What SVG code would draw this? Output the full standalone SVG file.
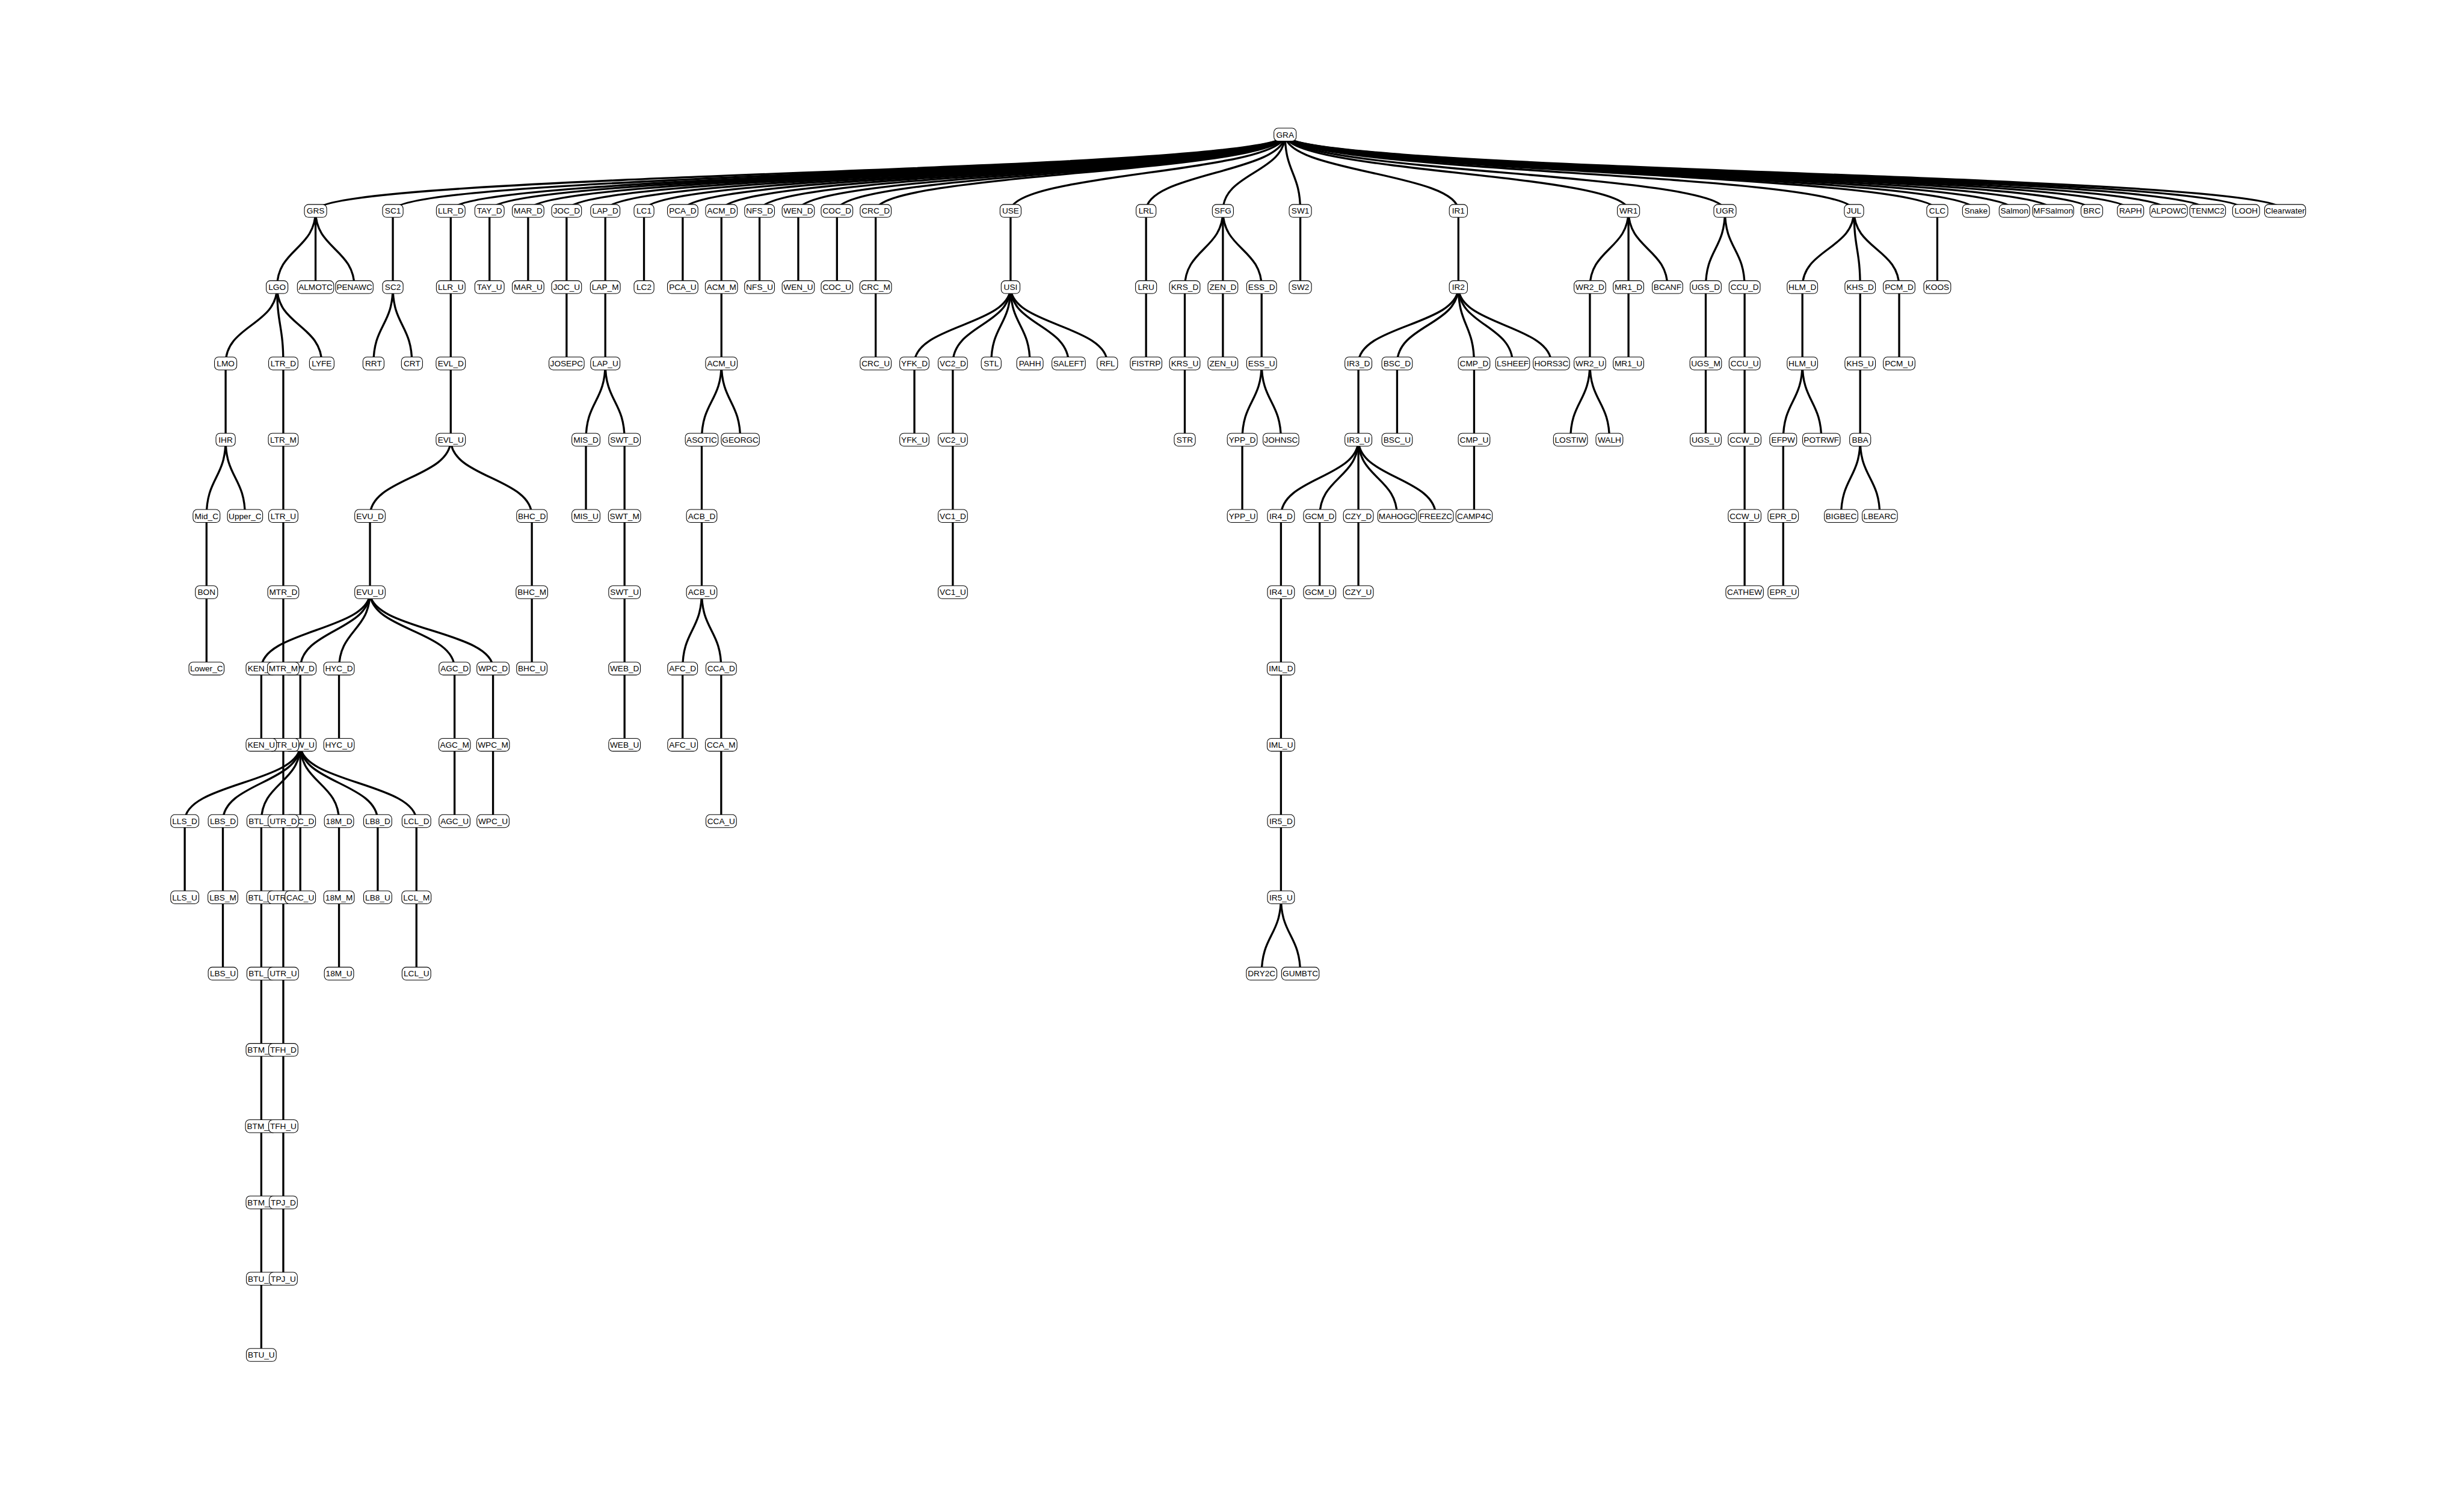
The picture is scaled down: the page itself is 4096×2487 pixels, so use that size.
<svg xmlns="http://www.w3.org/2000/svg" width="4096" height="2487" viewBox="0 0 4096 2487">
<style>
.e path{fill:none;stroke:#000;stroke-width:3.4}
.n rect{fill:#fff;stroke:#000;stroke-width:1.1}
.n text{font-family:'Liberation Sans Narrow','Arial Narrow','Liberation Sans',Arial,sans-serif;font-size:14px;text-anchor:middle;fill:#000}
</style>
<rect width="4096" height="2487" fill="#fff"/>
<g transform="scale(0.975)">
<g id="connectors" class="e">
<path d="M2191 229.5C2191 294.5 538 294.5 538 359.6"/>
<path d="M2191 229.5C2191 294.5 669.8 294.5 669.8 359.6"/>
<path d="M2191 229.5C2191 294.5 768.5 294.5 768.5 359.6"/>
<path d="M2191 229.5C2191 294.5 834.6 294.5 834.6 359.6"/>
<path d="M2191 229.5C2191 294.5 900.4 294.5 900.4 359.6"/>
<path d="M2191 229.5C2191 294.5 966 294.5 966 359.6"/>
<path d="M2191 229.5C2191 294.5 1032 294.5 1032 359.6"/>
<path d="M2191 229.5C2191 294.5 1098 294.5 1098 359.6"/>
<path d="M2191 229.5C2191 294.5 1164 294.5 1164 359.6"/>
<path d="M2191 229.5C2191 294.5 1230 294.5 1230 359.6"/>
<path d="M2191 229.5C2191 294.5 1295 294.5 1295 359.6"/>
<path d="M2191 229.5C2191 294.5 1361 294.5 1361 359.6"/>
<path d="M2191 229.5C2191 294.5 1427 294.5 1427 359.6"/>
<path d="M2191 229.5C2191 294.5 1493 294.5 1493 359.6"/>
<path d="M2191 229.5C2191 294.5 1723 294.5 1723 359.6"/>
<path d="M2191 229.5C2191 294.5 1954 294.5 1954 359.6"/>
<path d="M2191 229.5C2191 294.5 2085 294.5 2085 359.6"/>
<path d="M2191 229.5C2191 294.5 2217 294.5 2217 359.6"/>
<path d="M2191 229.5C2191 294.5 2486.5 294.5 2486.5 359.6"/>
<path d="M2191 229.5C2191 294.5 2776.5 294.5 2776.5 359.6"/>
<path d="M2191 229.5C2191 294.5 2941 294.5 2941 359.6"/>
<path d="M2191 229.5C2191 294.5 3161 294.5 3161 359.6"/>
<path d="M2191 229.5C2191 294.5 3303 294.5 3303 359.6"/>
<path d="M2191 229.5C2191 294.5 3369 294.5 3369 359.6"/>
<path d="M2191 229.5C2191 294.5 3434.5 294.5 3434.5 359.6"/>
<path d="M2191 229.5C2191 294.5 3500.5 294.5 3500.5 359.6"/>
<path d="M2191 229.5C2191 294.5 3566.5 294.5 3566.5 359.6"/>
<path d="M2191 229.5C2191 294.5 3632.5 294.5 3632.5 359.6"/>
<path d="M2191 229.5C2191 294.5 3697.5 294.5 3697.5 359.6"/>
<path d="M2191 229.5C2191 294.5 3764 294.5 3764 359.6"/>
<path d="M2191 229.5C2191 294.5 3829.5 294.5 3829.5 359.6"/>
<path d="M2191 229.5C2191 294.5 3896 294.5 3896 359.6"/>
<path d="M538 359.6C538 424.6 472.4 424.6 472.4 489.6"/>
<path d="M538 359.6V489.6"/>
<path d="M538 359.6C538 424.6 604.2 424.6 604.2 489.6"/>
<path d="M669.8 359.6V489.6"/>
<path d="M768.5 359.6V489.6"/>
<path d="M834.6 359.6V489.6"/>
<path d="M900.4 359.6V489.6"/>
<path d="M966 359.6V489.6"/>
<path d="M1032 359.6V489.6"/>
<path d="M1098 359.6V489.6"/>
<path d="M1164 359.6V489.6"/>
<path d="M1230 359.6V489.6"/>
<path d="M1295 359.6V489.6"/>
<path d="M1361 359.6V489.6"/>
<path d="M1427 359.6V489.6"/>
<path d="M1493 359.6V489.6"/>
<path d="M1723 359.6V489.6"/>
<path d="M1954 359.6V489.6"/>
<path d="M2085 359.6C2085 424.6 2020 424.6 2020 489.6"/>
<path d="M2085 359.6V489.6"/>
<path d="M2085 359.6C2085 424.6 2151 424.6 2151 489.6"/>
<path d="M2217 359.6V489.6"/>
<path d="M2486.5 359.6V489.6"/>
<path d="M2776.5 359.6C2776.5 424.6 2710.7 424.6 2710.7 489.6"/>
<path d="M2776.5 359.6V489.6"/>
<path d="M2776.5 359.6C2776.5 424.6 2843 424.6 2843 489.6"/>
<path d="M2941 359.6C2941 424.6 2908.2 424.6 2908.2 489.6"/>
<path d="M2941 359.6C2941 424.6 2974.5 424.6 2974.5 489.6"/>
<path d="M3161 359.6C3161 424.6 3073 424.6 3073 489.6"/>
<path d="M3161 359.6C3161 424.6 3171.5 424.6 3171.5 489.6"/>
<path d="M3161 359.6C3161 424.6 3238 424.6 3238 489.6"/>
<path d="M3303 359.6V489.6"/>
<path d="M472.4 489.6C472.4 554.6 384.7 554.6 384.7 619.7"/>
<path d="M472.4 489.6C472.4 554.6 483 554.6 483 619.7"/>
<path d="M472.4 489.6C472.4 554.6 548.6 554.6 548.6 619.7"/>
<path d="M669.8 489.6C669.8 554.6 636.8 554.6 636.8 619.7"/>
<path d="M669.8 489.6C669.8 554.6 702.4 554.6 702.4 619.7"/>
<path d="M768.5 489.6V619.7"/>
<path d="M966 489.6V619.7"/>
<path d="M1032 489.6V619.7"/>
<path d="M1230 489.6V619.7"/>
<path d="M1493 489.6V619.7"/>
<path d="M1723 489.6C1723 554.6 1559 554.6 1559 619.7"/>
<path d="M1723 489.6C1723 554.6 1624.5 554.6 1624.5 619.7"/>
<path d="M1723 489.6C1723 554.6 1690 554.6 1690 619.7"/>
<path d="M1723 489.6C1723 554.6 1756 554.6 1756 619.7"/>
<path d="M1723 489.6C1723 554.6 1822 554.6 1822 619.7"/>
<path d="M1723 489.6C1723 554.6 1888 554.6 1888 619.7"/>
<path d="M1954 489.6V619.7"/>
<path d="M2020 489.6V619.7"/>
<path d="M2085 489.6V619.7"/>
<path d="M2151 489.6V619.7"/>
<path d="M2486.5 489.6C2486.5 554.6 2316 554.6 2316 619.7"/>
<path d="M2486.5 489.6C2486.5 554.6 2382 554.6 2382 619.7"/>
<path d="M2486.5 489.6C2486.5 554.6 2513.3 554.6 2513.3 619.7"/>
<path d="M2486.5 489.6C2486.5 554.6 2579 554.6 2579 619.7"/>
<path d="M2486.5 489.6C2486.5 554.6 2645 554.6 2645 619.7"/>
<path d="M2710.7 489.6V619.7"/>
<path d="M2776.5 489.6V619.7"/>
<path d="M2908.2 489.6V619.7"/>
<path d="M2974.5 489.6V619.7"/>
<path d="M3073 489.6V619.7"/>
<path d="M3171.5 489.6V619.7"/>
<path d="M3238 489.6V619.7"/>
<path d="M384.7 619.7V749.7"/>
<path d="M483 619.7V749.7"/>
<path d="M768.5 619.7V749.7"/>
<path d="M1032 619.7C1032 684.7 999 684.7 999 749.7"/>
<path d="M1032 619.7C1032 684.7 1064.8 684.7 1064.8 749.7"/>
<path d="M1230 619.7C1230 684.7 1196.4 684.7 1196.4 749.7"/>
<path d="M1230 619.7C1230 684.7 1262.2 684.7 1262.2 749.7"/>
<path d="M1559 619.7V749.7"/>
<path d="M1624.5 619.7V749.7"/>
<path d="M2020 619.7V749.7"/>
<path d="M2151 619.7C2151 684.7 2118 684.7 2118 749.7"/>
<path d="M2151 619.7C2151 684.7 2184 684.7 2184 749.7"/>
<path d="M2316 619.7V749.7"/>
<path d="M2382 619.7V749.7"/>
<path d="M2513.3 619.7V749.7"/>
<path d="M2710.7 619.7C2710.7 684.7 2677.6 684.7 2677.6 749.7"/>
<path d="M2710.7 619.7C2710.7 684.7 2744 684.7 2744 749.7"/>
<path d="M2908.2 619.7V749.7"/>
<path d="M2974.5 619.7V749.7"/>
<path d="M3073 619.7C3073 684.7 3040.3 684.7 3040.3 749.7"/>
<path d="M3073 619.7C3073 684.7 3105.4 684.7 3105.4 749.7"/>
<path d="M3171.5 619.7V749.7"/>
<path d="M384.7 749.7C384.7 814.7 352.1 814.7 352.1 879.8"/>
<path d="M384.7 749.7C384.7 814.7 417.8 814.7 417.8 879.8"/>
<path d="M483 749.7V879.8"/>
<path d="M768.5 749.7C768.5 814.7 630.8 814.7 630.8 879.8"/>
<path d="M768.5 749.7C768.5 814.7 906.8 814.7 906.8 879.8"/>
<path d="M999 749.7V879.8"/>
<path d="M1064.8 749.7V879.8"/>
<path d="M1196.4 749.7V879.8"/>
<path d="M1624.5 749.7V879.8"/>
<path d="M2118 749.7V879.8"/>
<path d="M2316 749.7C2316 814.7 2184 814.7 2184 879.8"/>
<path d="M2316 749.7C2316 814.7 2250 814.7 2250 879.8"/>
<path d="M2316 749.7V879.8"/>
<path d="M2316 749.7C2316 814.7 2382 814.7 2382 879.8"/>
<path d="M2316 749.7C2316 814.7 2448 814.7 2448 879.8"/>
<path d="M2513.3 749.7V879.8"/>
<path d="M2974.5 749.7V879.8"/>
<path d="M3040.3 749.7V879.8"/>
<path d="M3171.5 749.7C3171.5 814.7 3139 814.7 3139 879.8"/>
<path d="M3171.5 749.7C3171.5 814.7 3205 814.7 3205 879.8"/>
<path d="M352.1 879.8V1009.8"/>
<path d="M483 879.8V1009.8"/>
<path d="M630.8 879.8V1009.8"/>
<path d="M906.8 879.8V1009.8"/>
<path d="M1064.8 879.8V1009.8"/>
<path d="M1196.4 879.8V1009.8"/>
<path d="M1624.5 879.8V1009.8"/>
<path d="M2184 879.8V1009.8"/>
<path d="M2250 879.8V1009.8"/>
<path d="M2316 879.8V1009.8"/>
<path d="M2974.5 879.8V1009.8"/>
<path d="M3040.3 879.8V1009.8"/>
<path d="M352.1 1009.8V1139.9"/>
<path d="M483 1009.8V1139.9"/>
<path d="M630.8 1009.8C630.8 1074.8 445.5 1074.8 445.5 1139.9"/>
<path d="M630.8 1009.8C630.8 1074.8 512 1074.8 512 1139.9"/>
<path d="M630.8 1009.8C630.8 1074.8 578 1074.8 578 1139.9"/>
<path d="M630.8 1009.8C630.8 1074.8 775 1074.8 775 1139.9"/>
<path d="M630.8 1009.8C630.8 1074.8 840.6 1074.8 840.6 1139.9"/>
<path d="M906.8 1009.8V1139.9"/>
<path d="M1064.8 1009.8V1139.9"/>
<path d="M1196.4 1009.8C1196.4 1074.8 1163.8 1074.8 1163.8 1139.9"/>
<path d="M1196.4 1009.8C1196.4 1074.8 1229.6 1074.8 1229.6 1139.9"/>
<path d="M2184 1009.8V1139.9"/>
<path d="M445.5 1139.9V1269.9"/>
<path d="M483 1139.9V1269.9"/>
<path d="M512 1139.9V1269.9"/>
<path d="M578 1139.9V1269.9"/>
<path d="M775 1139.9V1269.9"/>
<path d="M840.6 1139.9V1269.9"/>
<path d="M1064.8 1139.9V1269.9"/>
<path d="M1163.8 1139.9V1269.9"/>
<path d="M1229.6 1139.9V1269.9"/>
<path d="M2184 1139.9V1269.9"/>
<path d="M512 1269.9C512 1335 315 1335 315 1400"/>
<path d="M512 1269.9C512 1335 380 1335 380 1400"/>
<path d="M512 1269.9C512 1335 445.5 1335 445.5 1400"/>
<path d="M512 1269.9V1400"/>
<path d="M512 1269.9C512 1335 578 1335 578 1400"/>
<path d="M512 1269.9C512 1335 644 1335 644 1400"/>
<path d="M512 1269.9C512 1335 710 1335 710 1400"/>
<path d="M483 1269.9V1400"/>
<path d="M775 1269.9V1400"/>
<path d="M840.6 1269.9V1400"/>
<path d="M1229.6 1269.9V1400"/>
<path d="M2184 1269.9V1400"/>
<path d="M315 1400V1530"/>
<path d="M380 1400V1530"/>
<path d="M445.5 1400V1530"/>
<path d="M483 1400V1530"/>
<path d="M512 1400V1530"/>
<path d="M578 1400V1530"/>
<path d="M644 1400V1530"/>
<path d="M710 1400V1530"/>
<path d="M2184 1400V1530"/>
<path d="M380 1530V1660.1"/>
<path d="M445.5 1530V1660.1"/>
<path d="M483 1530V1660.1"/>
<path d="M578 1530V1660.1"/>
<path d="M710 1530V1660.1"/>
<path d="M2184 1530C2184 1595 2151 1595 2151 1660.1"/>
<path d="M2184 1530C2184 1595 2217 1595 2217 1660.1"/>
<path d="M445.5 1660.1V1790.1"/>
<path d="M483 1660.1V1790.1"/>
<path d="M445.5 1790.1V1920.2"/>
<path d="M483 1790.1V1920.2"/>
<path d="M445.5 1920.2V2050.2"/>
<path d="M483 1920.2V2050.2"/>
<path d="M445.5 2050.2V2180.3"/>
<path d="M483 2050.2V2180.3"/>
<path d="M445.5 2180.3V2310.3"/>
</g>
<g id="nodes">
<g id="n-GRA" class="n" transform="translate(2191,229.5)"><rect x="-19" y="-11" width="38" height="22" rx="7"/><text y="5">GRA</text></g>
<g id="n-GRS" class="n" transform="translate(538,359.6)"><rect x="-19" y="-11" width="38" height="22" rx="7"/><text y="5">GRS</text></g>
<g id="n-SC1" class="n" transform="translate(669.8,359.6)"><rect x="-17.5" y="-11" width="35" height="22" rx="7"/><text y="5">SC1</text></g>
<g id="n-LLR_D" class="n" transform="translate(768.5,359.6)"><rect x="-24.5" y="-11" width="49" height="22" rx="7"/><text y="5">LLR_D</text></g>
<g id="n-TAY_D" class="n" transform="translate(834.6,359.6)"><rect x="-25" y="-11" width="50" height="22" rx="7"/><text y="5">TAY_D</text></g>
<g id="n-MAR_D" class="n" transform="translate(900.4,359.6)"><rect x="-27" y="-11" width="54" height="22" rx="7"/><text y="5">MAR_D</text></g>
<g id="n-JOC_D" class="n" transform="translate(966,359.6)"><rect x="-25.5" y="-11" width="51" height="22" rx="7"/><text y="5">JOC_D</text></g>
<g id="n-LAP_D" class="n" transform="translate(1032,359.6)"><rect x="-25" y="-11" width="50" height="22" rx="7"/><text y="5">LAP_D</text></g>
<g id="n-LC1" class="n" transform="translate(1098,359.6)"><rect x="-17" y="-11" width="34" height="22" rx="7"/><text y="5">LC1</text></g>
<g id="n-PCA_D" class="n" transform="translate(1164,359.6)"><rect x="-26" y="-11" width="52" height="22" rx="7"/><text y="5">PCA_D</text></g>
<g id="n-ACM_D" class="n" transform="translate(1230,359.6)"><rect x="-27" y="-11" width="54" height="22" rx="7"/><text y="5">ACM_D</text></g>
<g id="n-NFS_D" class="n" transform="translate(1295,359.6)"><rect x="-25.5" y="-11" width="51" height="22" rx="7"/><text y="5">NFS_D</text></g>
<g id="n-WEN_D" class="n" transform="translate(1361,359.6)"><rect x="-27.5" y="-11" width="55" height="22" rx="7"/><text y="5">WEN_D</text></g>
<g id="n-COC_D" class="n" transform="translate(1427,359.6)"><rect x="-27" y="-11" width="54" height="22" rx="7"/><text y="5">COC_D</text></g>
<g id="n-CRC_D" class="n" transform="translate(1493,359.6)"><rect x="-26.5" y="-11" width="53" height="22" rx="7"/><text y="5">CRC_D</text></g>
<g id="n-USE" class="n" transform="translate(1723,359.6)"><rect x="-18" y="-11" width="36" height="22" rx="7"/><text y="5">USE</text></g>
<g id="n-LRL" class="n" transform="translate(1954,359.6)"><rect x="-17" y="-11" width="34" height="22" rx="7"/><text y="5">LRL</text></g>
<g id="n-SFG" class="n" transform="translate(2085,359.6)"><rect x="-18" y="-11" width="36" height="22" rx="7"/><text y="5">SFG</text></g>
<g id="n-SW1" class="n" transform="translate(2217,359.6)"><rect x="-19" y="-11" width="38" height="22" rx="7"/><text y="5">SW1</text></g>
<g id="n-IR1" class="n" transform="translate(2486.5,359.6)"><rect x="-15.5" y="-11" width="31" height="22" rx="7"/><text y="5">IR1</text></g>
<g id="n-WR1" class="n" transform="translate(2776.5,359.6)"><rect x="-19" y="-11" width="38" height="22" rx="7"/><text y="5">WR1</text></g>
<g id="n-UGR" class="n" transform="translate(2941,359.6)"><rect x="-19" y="-11" width="38" height="22" rx="7"/><text y="5">UGR</text></g>
<g id="n-JUL" class="n" transform="translate(3161,359.6)"><rect x="-16.5" y="-11" width="33" height="22" rx="7"/><text y="5">JUL</text></g>
<g id="n-CLC" class="n" transform="translate(3303,359.6)"><rect x="-18" y="-11" width="36" height="22" rx="7"/><text y="5">CLC</text></g>
<g id="n-Snake" class="n" transform="translate(3369,359.6)"><rect x="-23" y="-11" width="46" height="22" rx="7"/><text y="5">Snake</text></g>
<g id="n-Salmon" class="n" transform="translate(3434.5,359.6)"><rect x="-26" y="-11" width="52" height="22" rx="7"/><text y="5">Salmon</text></g>
<g id="n-MFSalmon" class="n" transform="translate(3500.5,359.6)"><rect x="-35" y="-11" width="70" height="22" rx="7"/><text y="5">MFSalmon</text></g>
<g id="n-BRC" class="n" transform="translate(3566.5,359.6)"><rect x="-18.5" y="-11" width="37" height="22" rx="7"/><text y="5">BRC</text></g>
<g id="n-RAPH" class="n" transform="translate(3632.5,359.6)"><rect x="-22.5" y="-11" width="45" height="22" rx="7"/><text y="5">RAPH</text></g>
<g id="n-ALPOWC" class="n" transform="translate(3697.5,359.6)"><rect x="-32" y="-11" width="64" height="22" rx="7"/><text y="5">ALPOWC</text></g>
<g id="n-TENMC2" class="n" transform="translate(3764,359.6)"><rect x="-30.5" y="-11" width="61" height="22" rx="7"/><text y="5">TENMC2</text></g>
<g id="n-LOOH" class="n" transform="translate(3829.5,359.6)"><rect x="-23" y="-11" width="46" height="22" rx="7"/><text y="5">LOOH</text></g>
<g id="n-Clearwater" class="n" transform="translate(3896,359.6)"><rect x="-35" y="-11" width="70" height="22" rx="7"/><text y="5">Clearwater</text></g>
<g id="n-LGO" class="n" transform="translate(472.4,489.6)"><rect x="-18.5" y="-11" width="37" height="22" rx="7"/><text y="5">LGO</text></g>
<g id="n-ALMOTC" class="n" transform="translate(538,489.6)"><rect x="-31" y="-11" width="62" height="22" rx="7"/><text y="5">ALMOTC</text></g>
<g id="n-PENAWC" class="n" transform="translate(604.2,489.6)"><rect x="-32" y="-11" width="64" height="22" rx="7"/><text y="5">PENAWC</text></g>
<g id="n-SC2" class="n" transform="translate(669.8,489.6)"><rect x="-17.5" y="-11" width="35" height="22" rx="7"/><text y="5">SC2</text></g>
<g id="n-LLR_U" class="n" transform="translate(768.5,489.6)"><rect x="-24.5" y="-11" width="49" height="22" rx="7"/><text y="5">LLR_U</text></g>
<g id="n-TAY_U" class="n" transform="translate(834.6,489.6)"><rect x="-25" y="-11" width="50" height="22" rx="7"/><text y="5">TAY_U</text></g>
<g id="n-MAR_U" class="n" transform="translate(900.4,489.6)"><rect x="-27" y="-11" width="54" height="22" rx="7"/><text y="5">MAR_U</text></g>
<g id="n-JOC_U" class="n" transform="translate(966,489.6)"><rect x="-25.5" y="-11" width="51" height="22" rx="7"/><text y="5">JOC_U</text></g>
<g id="n-LAP_M" class="n" transform="translate(1032,489.6)"><rect x="-25.5" y="-11" width="51" height="22" rx="7"/><text y="5">LAP_M</text></g>
<g id="n-LC2" class="n" transform="translate(1098,489.6)"><rect x="-17" y="-11" width="34" height="22" rx="7"/><text y="5">LC2</text></g>
<g id="n-PCA_U" class="n" transform="translate(1164,489.6)"><rect x="-26" y="-11" width="52" height="22" rx="7"/><text y="5">PCA_U</text></g>
<g id="n-ACM_M" class="n" transform="translate(1230,489.6)"><rect x="-27.5" y="-11" width="55" height="22" rx="7"/><text y="5">ACM_M</text></g>
<g id="n-NFS_U" class="n" transform="translate(1295,489.6)"><rect x="-25.5" y="-11" width="51" height="22" rx="7"/><text y="5">NFS_U</text></g>
<g id="n-WEN_U" class="n" transform="translate(1361,489.6)"><rect x="-27.5" y="-11" width="55" height="22" rx="7"/><text y="5">WEN_U</text></g>
<g id="n-COC_U" class="n" transform="translate(1427,489.6)"><rect x="-27" y="-11" width="54" height="22" rx="7"/><text y="5">COC_U</text></g>
<g id="n-CRC_M" class="n" transform="translate(1493,489.6)"><rect x="-27" y="-11" width="54" height="22" rx="7"/><text y="5">CRC_M</text></g>
<g id="n-USI" class="n" transform="translate(1723,489.6)"><rect x="-16" y="-11" width="32" height="22" rx="7"/><text y="5">USI</text></g>
<g id="n-LRU" class="n" transform="translate(1954,489.6)"><rect x="-18" y="-11" width="36" height="22" rx="7"/><text y="5">LRU</text></g>
<g id="n-KRS_D" class="n" transform="translate(2020,489.6)"><rect x="-26" y="-11" width="52" height="22" rx="7"/><text y="5">KRS_D</text></g>
<g id="n-ZEN_D" class="n" transform="translate(2085,489.6)"><rect x="-25.5" y="-11" width="51" height="22" rx="7"/><text y="5">ZEN_D</text></g>
<g id="n-ESS_D" class="n" transform="translate(2151,489.6)"><rect x="-25.5" y="-11" width="51" height="22" rx="7"/><text y="5">ESS_D</text></g>
<g id="n-SW2" class="n" transform="translate(2217,489.6)"><rect x="-19" y="-11" width="38" height="22" rx="7"/><text y="5">SW2</text></g>
<g id="n-IR2" class="n" transform="translate(2486.5,489.6)"><rect x="-15.5" y="-11" width="31" height="22" rx="7"/><text y="5">IR2</text></g>
<g id="n-WR2_D" class="n" transform="translate(2710.7,489.6)"><rect x="-27" y="-11" width="54" height="22" rx="7"/><text y="5">WR2_D</text></g>
<g id="n-MR1_D" class="n" transform="translate(2776.5,489.6)"><rect x="-26" y="-11" width="52" height="22" rx="7"/><text y="5">MR1_D</text></g>
<g id="n-BCANF" class="n" transform="translate(2843,489.6)"><rect x="-26" y="-11" width="52" height="22" rx="7"/><text y="5">BCANF</text></g>
<g id="n-UGS_D" class="n" transform="translate(2908.2,489.6)"><rect x="-26.5" y="-11" width="53" height="22" rx="7"/><text y="5">UGS_D</text></g>
<g id="n-CCU_D" class="n" transform="translate(2974.5,489.6)"><rect x="-26.5" y="-11" width="53" height="22" rx="7"/><text y="5">CCU_D</text></g>
<g id="n-HLM_D" class="n" transform="translate(3073,489.6)"><rect x="-26" y="-11" width="52" height="22" rx="7"/><text y="5">HLM_D</text></g>
<g id="n-KHS_D" class="n" transform="translate(3171.5,489.6)"><rect x="-26" y="-11" width="52" height="22" rx="7"/><text y="5">KHS_D</text></g>
<g id="n-PCM_D" class="n" transform="translate(3238,489.6)"><rect x="-27" y="-11" width="54" height="22" rx="7"/><text y="5">PCM_D</text></g>
<g id="n-KOOS" class="n" transform="translate(3303,489.6)"><rect x="-23" y="-11" width="46" height="22" rx="7"/><text y="5">KOOS</text></g>
<g id="n-LMO" class="n" transform="translate(384.7,619.7)"><rect x="-19" y="-11" width="38" height="22" rx="7"/><text y="5">LMO</text></g>
<g id="n-LTR_D" class="n" transform="translate(483,619.7)"><rect x="-25" y="-11" width="50" height="22" rx="7"/><text y="5">LTR_D</text></g>
<g id="n-LYFE" class="n" transform="translate(548.6,619.7)"><rect x="-21" y="-11" width="42" height="22" rx="7"/><text y="5">LYFE</text></g>
<g id="n-RRT" class="n" transform="translate(636.8,619.7)"><rect x="-18" y="-11" width="36" height="22" rx="7"/><text y="5">RRT</text></g>
<g id="n-CRT" class="n" transform="translate(702.4,619.7)"><rect x="-18" y="-11" width="36" height="22" rx="7"/><text y="5">CRT</text></g>
<g id="n-EVL_D" class="n" transform="translate(768.5,619.7)"><rect x="-25" y="-11" width="50" height="22" rx="7"/><text y="5">EVL_D</text></g>
<g id="n-JOSEPC" class="n" transform="translate(966,619.7)"><rect x="-30" y="-11" width="60" height="22" rx="7"/><text y="5">JOSEPC</text></g>
<g id="n-LAP_U" class="n" transform="translate(1032,619.7)"><rect x="-25" y="-11" width="50" height="22" rx="7"/><text y="5">LAP_U</text></g>
<g id="n-ACM_U" class="n" transform="translate(1230,619.7)"><rect x="-27" y="-11" width="54" height="22" rx="7"/><text y="5">ACM_U</text></g>
<g id="n-CRC_U" class="n" transform="translate(1493,619.7)"><rect x="-26.5" y="-11" width="53" height="22" rx="7"/><text y="5">CRC_U</text></g>
<g id="n-YFK_D" class="n" transform="translate(1559,619.7)"><rect x="-25" y="-11" width="50" height="22" rx="7"/><text y="5">YFK_D</text></g>
<g id="n-VC2_D" class="n" transform="translate(1624.5,619.7)"><rect x="-25" y="-11" width="50" height="22" rx="7"/><text y="5">VC2_D</text></g>
<g id="n-STL" class="n" transform="translate(1690,619.7)"><rect x="-17" y="-11" width="34" height="22" rx="7"/><text y="5">STL</text></g>
<g id="n-PAHH" class="n" transform="translate(1756,619.7)"><rect x="-22.5" y="-11" width="45" height="22" rx="7"/><text y="5">PAHH</text></g>
<g id="n-SALEFT" class="n" transform="translate(1822,619.7)"><rect x="-28.5" y="-11" width="57" height="22" rx="7"/><text y="5">SALEFT</text></g>
<g id="n-RFL" class="n" transform="translate(1888,619.7)"><rect x="-17.5" y="-11" width="35" height="22" rx="7"/><text y="5">RFL</text></g>
<g id="n-FISTRP" class="n" transform="translate(1954,619.7)"><rect x="-27" y="-11" width="54" height="22" rx="7"/><text y="5">FISTRP</text></g>
<g id="n-KRS_U" class="n" transform="translate(2020,619.7)"><rect x="-26" y="-11" width="52" height="22" rx="7"/><text y="5">KRS_U</text></g>
<g id="n-ZEN_U" class="n" transform="translate(2085,619.7)"><rect x="-25.5" y="-11" width="51" height="22" rx="7"/><text y="5">ZEN_U</text></g>
<g id="n-ESS_U" class="n" transform="translate(2151,619.7)"><rect x="-25.5" y="-11" width="51" height="22" rx="7"/><text y="5">ESS_U</text></g>
<g id="n-IR3_D" class="n" transform="translate(2316,619.7)"><rect x="-23" y="-11" width="46" height="22" rx="7"/><text y="5">IR3_D</text></g>
<g id="n-BSC_D" class="n" transform="translate(2382,619.7)"><rect x="-26" y="-11" width="52" height="22" rx="7"/><text y="5">BSC_D</text></g>
<g id="n-CMP_D" class="n" transform="translate(2513.3,619.7)"><rect x="-27" y="-11" width="54" height="22" rx="7"/><text y="5">CMP_D</text></g>
<g id="n-LSHEEF" class="n" transform="translate(2579,619.7)"><rect x="-29" y="-11" width="58" height="22" rx="7"/><text y="5">LSHEEF</text></g>
<g id="n-HORS3C" class="n" transform="translate(2645,619.7)"><rect x="-31" y="-11" width="62" height="22" rx="7"/><text y="5">HORS3C</text></g>
<g id="n-WR2_U" class="n" transform="translate(2710.7,619.7)"><rect x="-27" y="-11" width="54" height="22" rx="7"/><text y="5">WR2_U</text></g>
<g id="n-MR1_U" class="n" transform="translate(2776.5,619.7)"><rect x="-26" y="-11" width="52" height="22" rx="7"/><text y="5">MR1_U</text></g>
<g id="n-UGS_M" class="n" transform="translate(2908.2,619.7)"><rect x="-27" y="-11" width="54" height="22" rx="7"/><text y="5">UGS_M</text></g>
<g id="n-CCU_U" class="n" transform="translate(2974.5,619.7)"><rect x="-26.5" y="-11" width="53" height="22" rx="7"/><text y="5">CCU_U</text></g>
<g id="n-HLM_U" class="n" transform="translate(3073,619.7)"><rect x="-26" y="-11" width="52" height="22" rx="7"/><text y="5">HLM_U</text></g>
<g id="n-KHS_U" class="n" transform="translate(3171.5,619.7)"><rect x="-26" y="-11" width="52" height="22" rx="7"/><text y="5">KHS_U</text></g>
<g id="n-PCM_U" class="n" transform="translate(3238,619.7)"><rect x="-27" y="-11" width="54" height="22" rx="7"/><text y="5">PCM_U</text></g>
<g id="n-IHR" class="n" transform="translate(384.7,749.7)"><rect x="-16.5" y="-11" width="33" height="22" rx="7"/><text y="5">IHR</text></g>
<g id="n-LTR_M" class="n" transform="translate(483,749.7)"><rect x="-25.5" y="-11" width="51" height="22" rx="7"/><text y="5">LTR_M</text></g>
<g id="n-EVL_U" class="n" transform="translate(768.5,749.7)"><rect x="-25" y="-11" width="50" height="22" rx="7"/><text y="5">EVL_U</text></g>
<g id="n-MIS_D" class="n" transform="translate(999,749.7)"><rect x="-24" y="-11" width="48" height="22" rx="7"/><text y="5">MIS_D</text></g>
<g id="n-SWT_D" class="n" transform="translate(1064.8,749.7)"><rect x="-27" y="-11" width="54" height="22" rx="7"/><text y="5">SWT_D</text></g>
<g id="n-ASOTIC" class="n" transform="translate(1196.4,749.7)"><rect x="-28" y="-11" width="56" height="22" rx="7"/><text y="5">ASOTIC</text></g>
<g id="n-GEORGC" class="n" transform="translate(1262.2,749.7)"><rect x="-32.5" y="-11" width="65" height="22" rx="7"/><text y="5">GEORGC</text></g>
<g id="n-YFK_U" class="n" transform="translate(1559,749.7)"><rect x="-25" y="-11" width="50" height="22" rx="7"/><text y="5">YFK_U</text></g>
<g id="n-VC2_U" class="n" transform="translate(1624.5,749.7)"><rect x="-25" y="-11" width="50" height="22" rx="7"/><text y="5">VC2_U</text></g>
<g id="n-STR" class="n" transform="translate(2020,749.7)"><rect x="-18" y="-11" width="36" height="22" rx="7"/><text y="5">STR</text></g>
<g id="n-YPP_D" class="n" transform="translate(2118,749.7)"><rect x="-25.5" y="-11" width="51" height="22" rx="7"/><text y="5">YPP_D</text></g>
<g id="n-JOHNSC" class="n" transform="translate(2184,749.7)"><rect x="-30.5" y="-11" width="61" height="22" rx="7"/><text y="5">JOHNSC</text></g>
<g id="n-IR3_U" class="n" transform="translate(2316,749.7)"><rect x="-23" y="-11" width="46" height="22" rx="7"/><text y="5">IR3_U</text></g>
<g id="n-BSC_U" class="n" transform="translate(2382,749.7)"><rect x="-26" y="-11" width="52" height="22" rx="7"/><text y="5">BSC_U</text></g>
<g id="n-CMP_U" class="n" transform="translate(2513.3,749.7)"><rect x="-27" y="-11" width="54" height="22" rx="7"/><text y="5">CMP_U</text></g>
<g id="n-LOSTIW" class="n" transform="translate(2677.6,749.7)"><rect x="-29" y="-11" width="58" height="22" rx="7"/><text y="5">LOSTIW</text></g>
<g id="n-WALH" class="n" transform="translate(2744,749.7)"><rect x="-23" y="-11" width="46" height="22" rx="7"/><text y="5">WALH</text></g>
<g id="n-UGS_U" class="n" transform="translate(2908.2,749.7)"><rect x="-26.5" y="-11" width="53" height="22" rx="7"/><text y="5">UGS_U</text></g>
<g id="n-CCW_D" class="n" transform="translate(2974.5,749.7)"><rect x="-28" y="-11" width="56" height="22" rx="7"/><text y="5">CCW_D</text></g>
<g id="n-EFPW" class="n" transform="translate(3040.3,749.7)"><rect x="-23" y="-11" width="46" height="22" rx="7"/><text y="5">EFPW</text></g>
<g id="n-POTRWF" class="n" transform="translate(3105.4,749.7)"><rect x="-32" y="-11" width="64" height="22" rx="7"/><text y="5">POTRWF</text></g>
<g id="n-BBA" class="n" transform="translate(3171.5,749.7)"><rect x="-18" y="-11" width="36" height="22" rx="7"/><text y="5">BBA</text></g>
<g id="n-Mid_C" class="n" transform="translate(352.1,879.8)"><rect x="-23" y="-11" width="46" height="22" rx="7"/><text y="5">Mid_C</text></g>
<g id="n-Upper_C" class="n" transform="translate(417.8,879.8)"><rect x="-30" y="-11" width="60" height="22" rx="7"/><text y="5">Upper_C</text></g>
<g id="n-LTR_U" class="n" transform="translate(483,879.8)"><rect x="-25" y="-11" width="50" height="22" rx="7"/><text y="5">LTR_U</text></g>
<g id="n-EVU_D" class="n" transform="translate(630.8,879.8)"><rect x="-26" y="-11" width="52" height="22" rx="7"/><text y="5">EVU_D</text></g>
<g id="n-BHC_D" class="n" transform="translate(906.8,879.8)"><rect x="-26" y="-11" width="52" height="22" rx="7"/><text y="5">BHC_D</text></g>
<g id="n-MIS_U" class="n" transform="translate(999,879.8)"><rect x="-24" y="-11" width="48" height="22" rx="7"/><text y="5">MIS_U</text></g>
<g id="n-SWT_M" class="n" transform="translate(1064.8,879.8)"><rect x="-27.5" y="-11" width="55" height="22" rx="7"/><text y="5">SWT_M</text></g>
<g id="n-ACB_D" class="n" transform="translate(1196.4,879.8)"><rect x="-26" y="-11" width="52" height="22" rx="7"/><text y="5">ACB_D</text></g>
<g id="n-VC1_D" class="n" transform="translate(1624.5,879.8)"><rect x="-25" y="-11" width="50" height="22" rx="7"/><text y="5">VC1_D</text></g>
<g id="n-YPP_U" class="n" transform="translate(2118,879.8)"><rect x="-25.5" y="-11" width="51" height="22" rx="7"/><text y="5">YPP_U</text></g>
<g id="n-IR4_D" class="n" transform="translate(2184,879.8)"><rect x="-23" y="-11" width="46" height="22" rx="7"/><text y="5">IR4_D</text></g>
<g id="n-GCM_D" class="n" transform="translate(2250,879.8)"><rect x="-27.5" y="-11" width="55" height="22" rx="7"/><text y="5">GCM_D</text></g>
<g id="n-CZY_D" class="n" transform="translate(2316,879.8)"><rect x="-25.5" y="-11" width="51" height="22" rx="7"/><text y="5">CZY_D</text></g>
<g id="n-MAHOGC" class="n" transform="translate(2382,879.8)"><rect x="-33" y="-11" width="66" height="22" rx="7"/><text y="5">MAHOGC</text></g>
<g id="n-FREEZC" class="n" transform="translate(2448,879.8)"><rect x="-30" y="-11" width="60" height="22" rx="7"/><text y="5">FREEZC</text></g>
<g id="n-CAMP4C" class="n" transform="translate(2513.3,879.8)"><rect x="-31" y="-11" width="62" height="22" rx="7"/><text y="5">CAMP4C</text></g>
<g id="n-CCW_U" class="n" transform="translate(2974.5,879.8)"><rect x="-28" y="-11" width="56" height="22" rx="7"/><text y="5">CCW_U</text></g>
<g id="n-EPR_D" class="n" transform="translate(3040.3,879.8)"><rect x="-26" y="-11" width="52" height="22" rx="7"/><text y="5">EPR_D</text></g>
<g id="n-BIGBEC" class="n" transform="translate(3139,879.8)"><rect x="-28.5" y="-11" width="57" height="22" rx="7"/><text y="5">BIGBEC</text></g>
<g id="n-LBEARC" class="n" transform="translate(3205,879.8)"><rect x="-30" y="-11" width="60" height="22" rx="7"/><text y="5">LBEARC</text></g>
<g id="n-BON" class="n" transform="translate(352.1,1009.8)"><rect x="-19" y="-11" width="38" height="22" rx="7"/><text y="5">BON</text></g>
<g id="n-MTR_D" class="n" transform="translate(483,1009.8)"><rect x="-26.5" y="-11" width="53" height="22" rx="7"/><text y="5">MTR_D</text></g>
<g id="n-EVU_U" class="n" transform="translate(630.8,1009.8)"><rect x="-26" y="-11" width="52" height="22" rx="7"/><text y="5">EVU_U</text></g>
<g id="n-BHC_M" class="n" transform="translate(906.8,1009.8)"><rect x="-27" y="-11" width="54" height="22" rx="7"/><text y="5">BHC_M</text></g>
<g id="n-SWT_U" class="n" transform="translate(1064.8,1009.8)"><rect x="-27" y="-11" width="54" height="22" rx="7"/><text y="5">SWT_U</text></g>
<g id="n-ACB_U" class="n" transform="translate(1196.4,1009.8)"><rect x="-26" y="-11" width="52" height="22" rx="7"/><text y="5">ACB_U</text></g>
<g id="n-VC1_U" class="n" transform="translate(1624.5,1009.8)"><rect x="-25" y="-11" width="50" height="22" rx="7"/><text y="5">VC1_U</text></g>
<g id="n-IR4_U" class="n" transform="translate(2184,1009.8)"><rect x="-23" y="-11" width="46" height="22" rx="7"/><text y="5">IR4_U</text></g>
<g id="n-GCM_U" class="n" transform="translate(2250,1009.8)"><rect x="-27.5" y="-11" width="55" height="22" rx="7"/><text y="5">GCM_U</text></g>
<g id="n-CZY_U" class="n" transform="translate(2316,1009.8)"><rect x="-25.5" y="-11" width="51" height="22" rx="7"/><text y="5">CZY_U</text></g>
<g id="n-CATHEW" class="n" transform="translate(2974.5,1009.8)"><rect x="-32" y="-11" width="64" height="22" rx="7"/><text y="5">CATHEW</text></g>
<g id="n-EPR_U" class="n" transform="translate(3040.3,1009.8)"><rect x="-26" y="-11" width="52" height="22" rx="7"/><text y="5">EPR_U</text></g>
<g id="n-Lower_C" class="n" transform="translate(352.1,1139.9)"><rect x="-30" y="-11" width="60" height="22" rx="7"/><text y="5">Lower_C</text></g>
<g id="n-KEN_D" class="n" transform="translate(445.5,1139.9)"><rect x="-26" y="-11" width="52" height="22" rx="7"/><text y="5">KEN_D</text></g>
<g id="n-LRW_D" class="n" transform="translate(512,1139.9)"><rect x="-27" y="-11" width="54" height="22" rx="7"/><text y="5">LRW_D</text></g>
<g id="n-MTR_M" class="n" transform="translate(483,1139.9)"><rect x="-27" y="-11" width="54" height="22" rx="7"/><text y="5">MTR_M</text></g>
<g id="n-HYC_D" class="n" transform="translate(578,1139.9)"><rect x="-26" y="-11" width="52" height="22" rx="7"/><text y="5">HYC_D</text></g>
<g id="n-AGC_D" class="n" transform="translate(775,1139.9)"><rect x="-26.5" y="-11" width="53" height="22" rx="7"/><text y="5">AGC_D</text></g>
<g id="n-WPC_D" class="n" transform="translate(840.6,1139.9)"><rect x="-27.5" y="-11" width="55" height="22" rx="7"/><text y="5">WPC_D</text></g>
<g id="n-BHC_U" class="n" transform="translate(906.8,1139.9)"><rect x="-26" y="-11" width="52" height="22" rx="7"/><text y="5">BHC_U</text></g>
<g id="n-WEB_D" class="n" transform="translate(1064.8,1139.9)"><rect x="-27" y="-11" width="54" height="22" rx="7"/><text y="5">WEB_D</text></g>
<g id="n-AFC_D" class="n" transform="translate(1163.8,1139.9)"><rect x="-25.5" y="-11" width="51" height="22" rx="7"/><text y="5">AFC_D</text></g>
<g id="n-CCA_D" class="n" transform="translate(1229.6,1139.9)"><rect x="-26" y="-11" width="52" height="22" rx="7"/><text y="5">CCA_D</text></g>
<g id="n-IML_D" class="n" transform="translate(2184,1139.9)"><rect x="-23.5" y="-11" width="47" height="22" rx="7"/><text y="5">IML_D</text></g>
<g id="n-LRW_U" class="n" transform="translate(512,1269.9)"><rect x="-27" y="-11" width="54" height="22" rx="7"/><text y="5">LRW_U</text></g>
<g id="n-MTR_U" class="n" transform="translate(483,1269.9)"><rect x="-26.5" y="-11" width="53" height="22" rx="7"/><text y="5">MTR_U</text></g>
<g id="n-KEN_U" class="n" transform="translate(445.5,1269.9)"><rect x="-26" y="-11" width="52" height="22" rx="7"/><text y="5">KEN_U</text></g>
<g id="n-HYC_U" class="n" transform="translate(578,1269.9)"><rect x="-26" y="-11" width="52" height="22" rx="7"/><text y="5">HYC_U</text></g>
<g id="n-AGC_M" class="n" transform="translate(775,1269.9)"><rect x="-27" y="-11" width="54" height="22" rx="7"/><text y="5">AGC_M</text></g>
<g id="n-WPC_M" class="n" transform="translate(840.6,1269.9)"><rect x="-28" y="-11" width="56" height="22" rx="7"/><text y="5">WPC_M</text></g>
<g id="n-WEB_U" class="n" transform="translate(1064.8,1269.9)"><rect x="-27" y="-11" width="54" height="22" rx="7"/><text y="5">WEB_U</text></g>
<g id="n-AFC_U" class="n" transform="translate(1163.8,1269.9)"><rect x="-25.5" y="-11" width="51" height="22" rx="7"/><text y="5">AFC_U</text></g>
<g id="n-CCA_M" class="n" transform="translate(1229.6,1269.9)"><rect x="-27" y="-11" width="54" height="22" rx="7"/><text y="5">CCA_M</text></g>
<g id="n-IML_U" class="n" transform="translate(2184,1269.9)"><rect x="-23.5" y="-11" width="47" height="22" rx="7"/><text y="5">IML_U</text></g>
<g id="n-LLS_D" class="n" transform="translate(315,1400)"><rect x="-24" y="-11" width="48" height="22" rx="7"/><text y="5">LLS_D</text></g>
<g id="n-LBS_D" class="n" transform="translate(380,1400)"><rect x="-25" y="-11" width="50" height="22" rx="7"/><text y="5">LBS_D</text></g>
<g id="n-BTL_D" class="n" transform="translate(445.5,1400)"><rect x="-24.5" y="-11" width="49" height="22" rx="7"/><text y="5">BTL_D</text></g>
<g id="n-CAC_D" class="n" transform="translate(512,1400)"><rect x="-26" y="-11" width="52" height="22" rx="7"/><text y="5">CAC_D</text></g>
<g id="n-UTR_D" class="n" transform="translate(483,1400)"><rect x="-26" y="-11" width="52" height="22" rx="7"/><text y="5">UTR_D</text></g>
<g id="n-18M_D" class="n" transform="translate(578,1400)"><rect x="-25" y="-11" width="50" height="22" rx="7"/><text y="5">18M_D</text></g>
<g id="n-LB8_D" class="n" transform="translate(644,1400)"><rect x="-24" y="-11" width="48" height="22" rx="7"/><text y="5">LB8_D</text></g>
<g id="n-LCL_D" class="n" transform="translate(710,1400)"><rect x="-24.5" y="-11" width="49" height="22" rx="7"/><text y="5">LCL_D</text></g>
<g id="n-AGC_U" class="n" transform="translate(775,1400)"><rect x="-26.5" y="-11" width="53" height="22" rx="7"/><text y="5">AGC_U</text></g>
<g id="n-WPC_U" class="n" transform="translate(840.6,1400)"><rect x="-27.5" y="-11" width="55" height="22" rx="7"/><text y="5">WPC_U</text></g>
<g id="n-CCA_U" class="n" transform="translate(1229.6,1400)"><rect x="-26" y="-11" width="52" height="22" rx="7"/><text y="5">CCA_U</text></g>
<g id="n-IR5_D" class="n" transform="translate(2184,1400)"><rect x="-23" y="-11" width="46" height="22" rx="7"/><text y="5">IR5_D</text></g>
<g id="n-LLS_U" class="n" transform="translate(315,1530)"><rect x="-24" y="-11" width="48" height="22" rx="7"/><text y="5">LLS_U</text></g>
<g id="n-LBS_M" class="n" transform="translate(380,1530)"><rect x="-25.5" y="-11" width="51" height="22" rx="7"/><text y="5">LBS_M</text></g>
<g id="n-BTL_M" class="n" transform="translate(445.5,1530)"><rect x="-25" y="-11" width="50" height="22" rx="7"/><text y="5">BTL_M</text></g>
<g id="n-UTR_M" class="n" transform="translate(483,1530)"><rect x="-26.5" y="-11" width="53" height="22" rx="7"/><text y="5">UTR_M</text></g>
<g id="n-CAC_U" class="n" transform="translate(512,1530)"><rect x="-26" y="-11" width="52" height="22" rx="7"/><text y="5">CAC_U</text></g>
<g id="n-18M_M" class="n" transform="translate(578,1530)"><rect x="-26" y="-11" width="52" height="22" rx="7"/><text y="5">18M_M</text></g>
<g id="n-LB8_U" class="n" transform="translate(644,1530)"><rect x="-24" y="-11" width="48" height="22" rx="7"/><text y="5">LB8_U</text></g>
<g id="n-LCL_M" class="n" transform="translate(710,1530)"><rect x="-25" y="-11" width="50" height="22" rx="7"/><text y="5">LCL_M</text></g>
<g id="n-IR5_U" class="n" transform="translate(2184,1530)"><rect x="-23" y="-11" width="46" height="22" rx="7"/><text y="5">IR5_U</text></g>
<g id="n-LBS_U" class="n" transform="translate(380,1660.1)"><rect x="-25" y="-11" width="50" height="22" rx="7"/><text y="5">LBS_U</text></g>
<g id="n-BTL_U" class="n" transform="translate(445.5,1660.1)"><rect x="-24.5" y="-11" width="49" height="22" rx="7"/><text y="5">BTL_U</text></g>
<g id="n-UTR_U" class="n" transform="translate(483,1660.1)"><rect x="-26" y="-11" width="52" height="22" rx="7"/><text y="5">UTR_U</text></g>
<g id="n-18M_U" class="n" transform="translate(578,1660.1)"><rect x="-25" y="-11" width="50" height="22" rx="7"/><text y="5">18M_U</text></g>
<g id="n-LCL_U" class="n" transform="translate(710,1660.1)"><rect x="-24.5" y="-11" width="49" height="22" rx="7"/><text y="5">LCL_U</text></g>
<g id="n-DRY2C" class="n" transform="translate(2151,1660.1)"><rect x="-26" y="-11" width="52" height="22" rx="7"/><text y="5">DRY2C</text></g>
<g id="n-GUMBTC" class="n" transform="translate(2217,1660.1)"><rect x="-32" y="-11" width="64" height="22" rx="7"/><text y="5">GUMBTC</text></g>
<g id="n-BTM_D" class="n" transform="translate(445.5,1790.1)"><rect x="-26" y="-11" width="52" height="22" rx="7"/><text y="5">BTM_D</text></g>
<g id="n-TFH_D" class="n" transform="translate(483,1790.1)"><rect x="-25" y="-11" width="50" height="22" rx="7"/><text y="5">TFH_D</text></g>
<g id="n-BTM_M" class="n" transform="translate(445.5,1920.2)"><rect x="-27" y="-11" width="54" height="22" rx="7"/><text y="5">BTM_M</text></g>
<g id="n-TFH_U" class="n" transform="translate(483,1920.2)"><rect x="-25" y="-11" width="50" height="22" rx="7"/><text y="5">TFH_U</text></g>
<g id="n-BTM_U" class="n" transform="translate(445.5,2050.2)"><rect x="-26" y="-11" width="52" height="22" rx="7"/><text y="5">BTM_U</text></g>
<g id="n-TPJ_D" class="n" transform="translate(483,2050.2)"><rect x="-24" y="-11" width="48" height="22" rx="7"/><text y="5">TPJ_D</text></g>
<g id="n-BTU_D" class="n" transform="translate(445.5,2180.3)"><rect x="-25.5" y="-11" width="51" height="22" rx="7"/><text y="5">BTU_D</text></g>
<g id="n-TPJ_U" class="n" transform="translate(483,2180.3)"><rect x="-24" y="-11" width="48" height="22" rx="7"/><text y="5">TPJ_U</text></g>
<g id="n-BTU_U" class="n" transform="translate(445.5,2310.3)"><rect x="-25.5" y="-11" width="51" height="22" rx="7"/><text y="5">BTU_U</text></g>
</g>
</g>
</svg>
